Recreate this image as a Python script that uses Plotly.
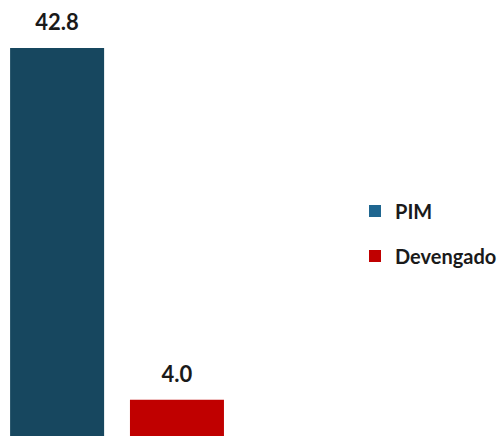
import plotly.graph_objects as go

categories = ["Total"]
series_names = ["PIM", "Devengado"]
series_values = [42.8, 4.0]
bar_colors = ["#17475F", "#C00000"]
legend_colors = ["#1F6690", "#C00000"]

bar_width = 0.4
bar_offsets = [-0.457, 0.053]

fig = go.Figure()
for name, val, col, off in zip(series_names, series_values, bar_colors, bar_offsets):
    fig.add_trace(go.Bar(
        x=categories, y=[val], name=name,
        marker=dict(color=col, line=dict(width=0)),
        width=bar_width, offset=off,
        texttemplate="<span style='font-size:22px'>%{y:.1f}</span><br> ",
        textposition="outside", cliponaxis=False,
        textfont=dict(family="Lato", size=10, color="#1a1a1a", weight="bold"),
        showlegend=False,
    ))
for i, (name, col) in enumerate(zip(series_names, legend_colors)):
    fig.add_trace(go.Bar(
        x=[None], y=[None], name=name,
        marker=dict(color=col, line=dict(width=0)),
        legendgroup=f"g{i}", showlegend=True,
    ))

fig.update_layout(
    width=502, height=436,
    margin=dict(l=0, r=0, t=0, b=0, autoexpand=False),
    paper_bgcolor="white", plot_bgcolor="white",
    barmode="group",
    xaxis=dict(domain=[0, 235 / 502], range=[-0.5, 0.5], visible=False),
    yaxis=dict(range=[0, 48.1], visible=False),
    legend=dict(
        x=355 / 502, xanchor="left", y=0.4644, yanchor="middle",
        font=dict(family="Lato", size=20, color="#1a1a1a", weight="bold"),
        traceorder="grouped", tracegroupgap=16,
        bgcolor="rgba(0,0,0,0)",
    ),
)

fig.write_html(
    "out.html",
    config={"displayModeBar": False},
    post_script="document.body.style.margin='0';document.body.style.overflow='hidden';",
)
